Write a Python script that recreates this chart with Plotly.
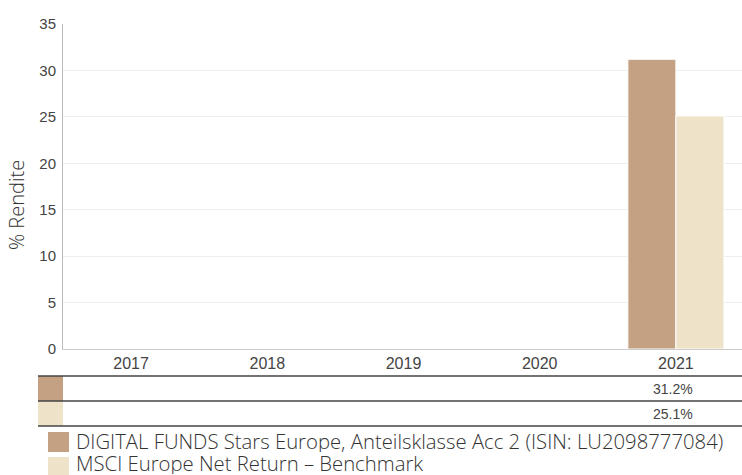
import plotly.graph_objects as go

years = ["2017", "2018", "2019", "2020", "2021"]
fund_values = [None, None, None, None, 31.2]
bench_values = [None, None, None, None, 25.1]
fund_name = "DIGITAL FUNDS Stars Europe, Anteilsklasse Acc 2 (ISIN: LU2098777084)"
bench_name = "MSCI Europe Net Return – Benchmark"
y_ticks = [0, 5, 10, 15, 20, 25, 30, 35]

FUND_COLOR = "#C4A182"
BENCH_COLOR = "#EEE3C8"

W, H = 744, 475
ML, MR, MT, MB = 63, 0, 24, 126
PW = W - ML - MR
PH = H - MT - MB


def px_x(x):
    return (x - ML) / PW


def px_y(y):
    return (H - MB - y) / PH


fig = go.Figure()
fig.add_trace(go.Bar(x=years, y=fund_values, name=fund_name,
                     marker=dict(color=FUND_COLOR, line=dict(color="white", width=1))))
fig.add_trace(go.Bar(x=years, y=bench_values, name=bench_name,
                     marker=dict(color=BENCH_COLOR, line=dict(color="white", width=1))))

shapes = []
annotations = []

# table rows
for y0, y1, col in [(376, 401, FUND_COLOR), (401, 426, BENCH_COLOR)]:
    shapes.append(dict(type="rect", xref="paper", yref="paper",
                       x0=px_x(38), x1=px_x(63), y0=px_y(y1), y1=px_y(y0),
                       fillcolor=col, line=dict(width=0)))
for yl in [376, 401, 426]:
    shapes.append(dict(type="line", xref="paper", yref="paper",
                       x0=px_x(38), x1=px_x(744), y0=px_y(yl), y1=px_y(yl),
                       line=dict(color="#444", width=1.5)))

for vals, yc in [(fund_values, 388.5), (bench_values, 413.5)]:
    for i, v in enumerate(vals):
        if v is not None:
            annotations.append(dict(x=i, xref="x", y=px_y(yc), yref="paper",
                                    text=f"{v:.1f}%", showarrow=False, xshift=-3,
                                    font=dict(family="Liberation Sans, Arial", size=14, color="#444"),
                                    xanchor="center", yanchor="middle"))

# legend
for name, col, y0, y1, yc in [(fund_name, FUND_COLOR, 432, 452, 441.5),
                              (bench_name, BENCH_COLOR, 457, 475, 463.5)]:
    shapes.append(dict(type="rect", xref="paper", yref="paper",
                       x0=px_x(48), x1=px_x(69), y0=px_y(y1), y1=px_y(y0),
                       fillcolor=col, line=dict(width=0)))
    annotations.append(dict(x=px_x(74), xref="paper", y=px_y(yc), yref="paper",
                            text=name, showarrow=False, height=22, valign="middle",
                            font=dict(family="Open Sans", size=20.3, color="#333", weight=300),
                            xanchor="left", yanchor="middle"))

# y axis title
annotations.append(dict(x=px_x(17), xref="paper", y=px_y(205), yref="paper",
                        text="% Rendite", showarrow=False, textangle=-90,
                        font=dict(family="Open Sans", size=20, color="#333", weight=300),
                        xanchor="center", yanchor="middle"))

fig.update_layout(
    width=W, height=H,
    margin=dict(l=ML, r=MR, t=MT, b=MB, autoexpand=False),
    paper_bgcolor="white", plot_bgcolor="white",
    barmode="group", bargap=0.295, bargroupgap=0,
    showlegend=False,
    shapes=shapes, annotations=annotations,
    xaxis=dict(type="category", categoryorder="array", categoryarray=years,
               range=[-0.5, len(years) - 0.5], automargin=False,
               showgrid=False, showline=True, linecolor="#ccc",
               linewidth=1, ticks="", tickfont=dict(family="Liberation Sans, Arial", size=16, color="#444"),
               fixedrange=True),
    yaxis=dict(range=[0, 35], tickvals=y_ticks, showgrid=True, gridcolor="#eeeeee",
               automargin=False, ticklabelstandoff=3,
               showline=True, linecolor="#bbb", linewidth=1, zeroline=False,
               ticks="", tickfont=dict(family="Liberation Sans, Arial", size=15, color="#444"),
               fixedrange=True),
)

fig.write_html("out.html", config={"displayModeBar": False},
               post_script="document.body.style.margin='0';document.body.style.overflow='hidden';")
